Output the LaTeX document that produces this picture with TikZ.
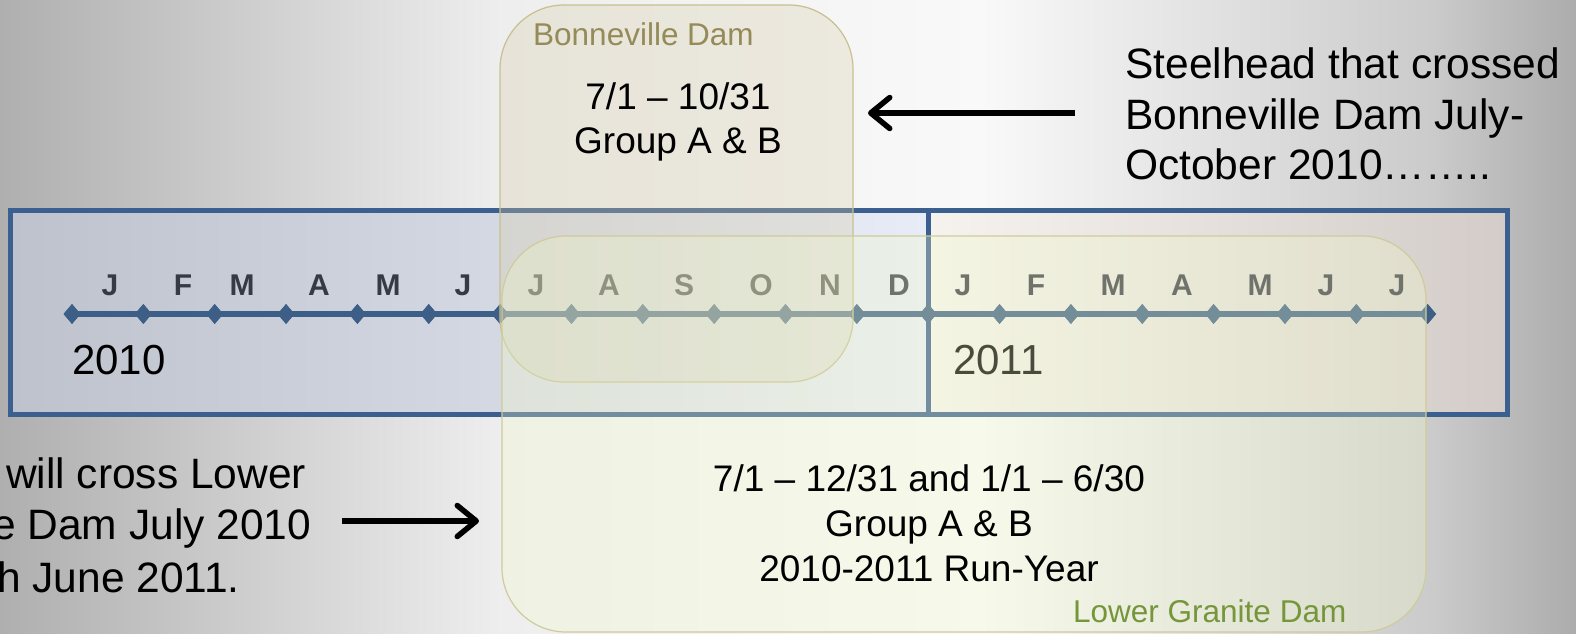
\documentclass[tikz,border=0pt]{standalone}
\usepackage{fontspec}
\setmainfont{Liberation Sans}
\usetikzlibrary{arrows.meta,shapes.geometric}
\definecolor{bgA}{HTML}{AFAFAF}
\definecolor{bgB}{HTML}{EEEEEE}
\definecolor{bgC}{HTML}{F9F9F9}
\definecolor{bgD}{HTML}{CBCBCB}
\definecolor{bgE}{HTML}{ACACAC}
\definecolor{bluebd}{HTML}{3B5F8E}
\definecolor{linec}{HTML}{3D5E86}
\definecolor{monthc}{HTML}{363A44}
\definecolor{lboxl}{HTML}{BDC2CC}
\definecolor{lboxr}{HTML}{E8ECF6}
\definecolor{rboxl}{HTML}{F6F3EF}
\definecolor{rboxr}{HTML}{D3CCC9}
\definecolor{bonfill}{HTML}{D7CCA9}
\definecolor{bonbd}{HTML}{C8C090}
\definecolor{lgfill}{HTML}{F3FAC8}
\definecolor{lgbd}{HTML}{CFCB9C}
\definecolor{bonlbl}{HTML}{958B58}
\definecolor{lglbl}{HTML}{76963A}
\pgfdeclarehorizontalshading{bgsh}{100bp}{color(0bp)=(bgA); color(25bp)=(bgA); color(40.9bp)=(bgB); color(56.1bp)=(bgC); color(70.4bp)=(bgD); color(75bp)=(bgE); color(100bp)=(bgE)}
\begin{document}
\begin{tikzpicture}[x=1pt,y=-1pt,
  yearbox/.style={draw=bluebd, line width=5pt, inner sep=0pt},
  tick/.style={diamond, fill=linec, minimum width=17pt, minimum height=20pt, inner sep=0pt},
  month/.style={font=\fontsize{30}{30}\selectfont\bfseries, text=monthc, anchor=base, inner sep=0pt},
  yeart/.style={font=\fontsize{42}{50}\selectfont, anchor=base west, inner sep=0pt},
  damarea/.style={line width=1.2pt, fill opacity=0.3, rounded corners=64pt, inner sep=0pt},
  bodyt/.style={font=\fontsize{37}{45}\selectfont, anchor=base, inner sep=0pt},
  bigt/.style={font=\fontsize{42.5}{50}\selectfont, anchor=base west, inner sep=0pt},
  damlbl/.style={font=\fontsize{31.5}{36}\selectfont, anchor=base west, inner sep=0pt},
  arr/.style={line width=5.5pt, -{Straight Barb[length=19pt,width=31pt,round]}}
]
\useasboundingbox (0,0) rectangle (1576,634);
% background
\shade[shading=bgsh] (0,0) rectangle (1576,634);
% year boxes
\node[yearbox, left color=lboxl, right color=lboxr, minimum width=918pt, minimum height=204pt] (box2010) at (469,312) {};
\node[yearbox, left color=rboxl, right color=rboxr, minimum width=579pt, minimum height=204pt] (box2011) at (1217.5,312) {};
% timeline
\foreach \k in {0,...,19} {
  \node[tick] (d\k) at ({72+71.35*\k},314) {};
}
\draw[linec, line width=5.5pt] (d0.center) -- (d19.center);
\foreach \k in {0,...,19} {
  \node[tick] at (d\k) {};
}
\foreach \x/\m [count=\i] in {110/J,183/F,242/M,319/A,388/M,463/J,536/J,609/A,684/S,761/O,830/N,899/D,963/J,1036/F,1113/M,1182/A,1260/M,1326/J,1397/J} {
  \node[month] (m\i) at (\x,295) {\m};
}
\node[yeart] (y2010) at (72,374) {2010};
\node[yeart] (y2011) at (953,374) {2011};
% dam areas
\node[damarea, draw=bonbd, fill=bonfill, minimum width=353pt, minimum height=377pt] (bon) at (676.5,193.5) {};
\node[damarea, draw=lgbd, fill=lgfill, minimum width=924pt, minimum height=396pt] (lgd) at (964,434) {};
% texts in areas
\node[damlbl, text=bonlbl] (bonname) at (533,46) {Bonneville Dam};
\node[bodyt] (b1) at (678,109) {7/1 – 10/31};
\node[bodyt] (b2) at (678,153) {Group A \& B};
\node[bodyt] (g1) at (929,491) {7/1 – 12/31 and 1/1 – 6/30};
\node[bodyt] (g2) at (929,536) {Group A \& B};
\node[bodyt] (g3) at (929,581) {2010-2011 Run-Year};
\node[damlbl, text=lglbl] (lgname) at (1073,622) {Lower Granite Dam};
% side texts
\node[bigt] (r1) at (1125,78) {Steelhead that crossed};
\node[bigt] (r2) at (1125,129) {Bonneville Dam July-};
\node[bigt] (r3) at (1125,179) {October 2010……..};
\node[bigt] (l1) at (6,488) {will cross Lower};
\node[bigt] (l2) at (-8,539) {e Dam July 2010};
\node[bigt] (l3) at (-3,592) {h June 2011.};
% arrows
\coordinate (a1s) at (1075,113);
\coordinate (a1e) at (868,113);
\coordinate (a2s) at (342,521);
\coordinate (a2e) at (479,521);
\draw[arr] (a1s) -- (a1e);
\draw[arr] (a2s) -- (a2e);
\end{tikzpicture}
\end{document}
